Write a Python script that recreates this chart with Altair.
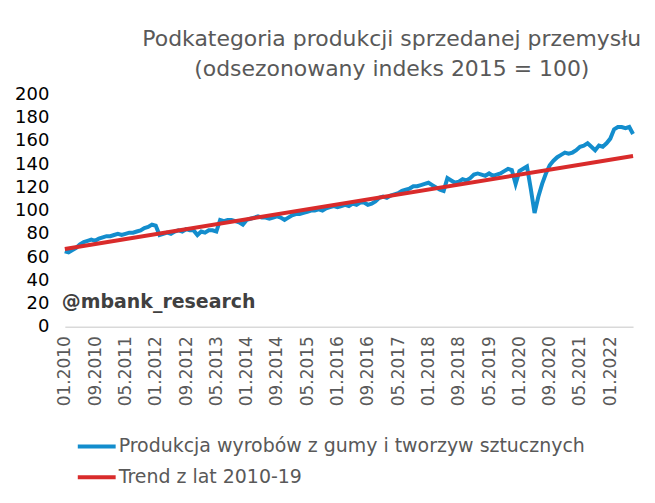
import altair as alt
import pandas as pd

# Monthly index values, 01.2010 .. 07.2022 (seasonally adjusted, 2015 = 100)
production = [
    65, 64, 66, 68, 71, 73, 74, 75, 74, 76,
    77, 78, 78, 79, 80, 79, 80, 81, 81, 82,
    83, 85, 86, 88, 87, 79, 80, 81, 80, 82,
    83, 82, 84, 83, 83, 79, 82, 81, 83, 83,
    82, 92, 91, 92, 92, 91, 90, 88, 92, 93,
    94, 95, 94, 94, 93, 94, 95, 94, 92, 94,
    96, 97, 97, 98, 99, 100, 100, 101, 100, 102,
    103, 104, 103, 104, 105, 104, 106, 105, 107, 107,
    105, 106, 108, 111, 112, 111, 113, 114, 115, 117,
    118, 119, 121, 121, 122, 123, 124, 122, 120, 118,
    117, 128, 126, 124, 125, 127, 126, 128, 131, 132,
    131, 130, 132, 130, 131, 132, 134, 136, 135, 123,
    134, 136, 138, 119, 98, 112, 123, 132, 139, 143,
    146, 148, 150, 149, 150, 152, 155, 156, 158, 155,
    152, 156, 155, 158, 162, 170, 172, 172, 171, 172,
    166,
]
# Trend line 2010-19 (straight line) read at its two ends
trend_months = [0, 150]
trend_values = [67, 147]

series_names = ["Produkcja wyrobów z gumy i tworzyw sztucznych", "Trend z lat 2010-19"]
series_colors = ["#138dcd", "#d92b2b"]
tick_months = list(range(0, 151, 8))
y_ticks = list(range(0, 201, 20))

rows = [{"m": i, "v": v, "s": series_names[0]} for i, v in enumerate(production)]
rows += [{"m": m, "v": v, "s": series_names[1]} for m, v in zip(trend_months, trend_values)]
df = pd.DataFrame(rows)

label_expr = ("(datum.value % 12 < 9 ? '0' : '') + (datum.value % 12 + 1) + '.' + "
              "(2010 + floor(datum.value / 12))")

lines = alt.Chart(df).mark_line(strokeWidth=4).encode(
    x=alt.X("m:Q",
            scale=alt.Scale(domain=[0, 150], nice=False, zero=False),
            axis=alt.Axis(values=tick_months, labelExpr=label_expr, labelAngle=-90,
                          title=None, grid=False, ticks=False, domainColor="#d9d9d9",
                          domainWidth=1.5, labelFontSize=17, labelColor="#595959",
                          labelPadding=9, labelFont="DejaVu Sans", labelOverlap=False)),
    y=alt.Y("v:Q",
            scale=alt.Scale(domain=[0, 200], nice=False),
            axis=alt.Axis(values=y_ticks, title=None, grid=False, ticks=False, domain=False,
                          labelFontSize=18, labelColor="#000000", labelPadding=16,
                          labelFont="DejaVu Sans")),
    color=alt.Color("s:N",
                    scale=alt.Scale(domain=series_names, range=series_colors),
                    legend=alt.Legend(title=None, orient="none", legendX=11, legendY=332,
                                      direction="vertical", symbolType="stroke",
                                      symbolSize=1444, symbolStrokeWidth=4,
                                      labelFontSize=19, labelColor="#595959",
                                      labelFont="DejaVu Sans", rowPadding=-3,
                                      labelOffset=1, labelLimit=600)),
    detail="s:N",
)

wm = alt.Chart(pd.DataFrame({"t": ["@mbank_research"]})).mark_text(
    align="left", baseline="middle", fontSize=19, fontWeight="bold",
    color="#404040", font="DejaVu Sans"
).encode(x=alt.value(-3), y=alt.value(208), text="t:N")

chart = alt.layer(lines, wm).properties(
    width=570, height=233,
    padding={"left": 6, "top": 19, "right": 5, "bottom": 5},
    title=alt.TitleParams(
        text=["Podkategoria produkcji sprzedanej przemysłu",
              "(odsezonowany indeks 2015 = 100)"],
        anchor="middle", dx=43, fontSize=22, fontWeight="normal", color="#595959",
        font="DejaVu Sans", lineHeight=30, offset=5),
).configure_view(stroke=None)

chart.save("out.html", embed_options={"renderer": "svg", "actions": False})
